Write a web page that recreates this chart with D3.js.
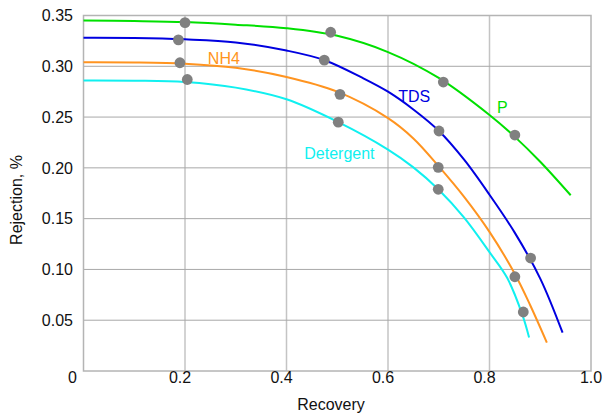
<!DOCTYPE html>
<html>
<head>
<meta charset="utf-8">
<script src="https://cdn.jsdelivr.net/npm/d3@7"></script>
<style>
  body { margin: 0; background: #fff; }
  svg { display: block; font-family: "Liberation Sans", Arial, sans-serif; }
</style>
</head>
<body>
<div id="chart"></div>
<script>
// Data
const xTicks = [0, 0.2, 0.4, 0.6, 0.8, 1.0];
const yTicks = [0.05, 0.10, 0.15, 0.20, 0.25, 0.30, 0.35];

const seriesNames  = ['P', 'TDS', 'NH4', 'Detergent'];
const seriesColors = ['#00e000', '#0000e0', '#ff9420', '#10f0f0'];

// fitted curves
const pCurveX   = [0, 0.1, 0.2, 0.3, 0.4, 0.5, 0.6, 0.7, 0.8, 0.85, 0.9, 0.96];
const pCurveY   = [0.345, 0.3445, 0.3435, 0.341, 0.3375, 0.330, 0.314, 0.2885, 0.252, 0.2305, 0.206, 0.173];
const tdsCurveX = [0, 0.1, 0.2, 0.3, 0.4, 0.475, 0.55, 0.6, 0.65, 0.7, 0.75, 0.8, 0.85, 0.9, 0.944];
const tdsCurveY = [0.328, 0.3278, 0.3265, 0.3235, 0.3155, 0.306, 0.2885, 0.275, 0.2575, 0.2365, 0.208, 0.1735, 0.136, 0.091, 0.0377];
const nh4CurveX = [0, 0.1, 0.2, 0.3, 0.4, 0.5, 0.6, 0.65, 0.7, 0.75, 0.8, 0.85, 0.88, 0.913];
const nh4CurveY = [0.304, 0.3038, 0.3025, 0.2985, 0.2895, 0.275, 0.249, 0.229, 0.2015, 0.1715, 0.137, 0.0955, 0.065, 0.028];
const detCurveX = [0, 0.1, 0.2, 0.3, 0.4, 0.5, 0.6, 0.65, 0.7, 0.75, 0.8, 0.835, 0.865, 0.878];
const detCurveY = [0.286, 0.2858, 0.2845, 0.279, 0.2675, 0.2455, 0.218, 0.2005, 0.1785, 0.151, 0.117, 0.0915, 0.055, 0.033];

// measured points
const pointX = [0.200, 0.187, 0.190, 0.2045, 0.487, 0.4745, 0.5054, 0.502, 0.709, 0.7005, 0.699, 0.699, 0.850, 0.881, 0.850, 0.8666];
const pointY = [0.343, 0.326, 0.3035, 0.287, 0.3335, 0.306, 0.2724, 0.245, 0.2845, 0.2363, 0.2005, 0.1789, 0.2323, 0.1112, 0.0928, 0.0581];

// label positions (data units)
const labelX = [0.815, 0.62, 0.245, 0.435];
const labelY = [0.254, 0.265, 0.302, 0.209];

const curves = [
  [pCurveX, pCurveY],
  [tdsCurveX, tdsCurveY],
  [nh4CurveX, nh4CurveY],
  [detCurveX, detCurveY]
];

// Layout
const width   = 613;
const height  = 416;
const plotL   = 83.5;
const plotR   = 591;
const plotT   = 15.5;
const plotB   = 371;

const svg = d3.select('#chart')
  .append('svg')
    .attr('width', width)
    .attr('height', height);

const x = d3.scaleLinear().domain([0, 1]).range([plotL, plotR]);
const y = d3.scaleLinear().domain([0, 0.35]).range([plotB, plotT]);

// grid
svg.append('g')
  .selectAll('line')
  .data(xTicks.slice(1, -1))
  .join('line')
    .attr('x1', d => x(d)).attr('x2', d => x(d))
    .attr('y1', plotT).attr('y2', plotB)
    .attr('stroke', '#c4c4c4')
    .attr('stroke-width', 1.5);

svg.append('g')
  .selectAll('line')
  .data(yTicks.slice(0, -1))
  .join('line')
    .attr('x1', plotL).attr('x2', plotR)
    .attr('y1', d => y(d)).attr('y2', d => y(d))
    .attr('stroke', '#a8a8a8')
    .attr('stroke-width', 1);

// frame
svg.append('rect')
  .attr('x', plotL).attr('y', plotT)
  .attr('width', plotR - plotL).attr('height', plotB - plotT)
  .attr('fill', 'none')
  .attr('stroke', '#b4b4b4')
  .attr('stroke-width', 1.5);

// tick labels
svg.append('g')
  .selectAll('text')
  .data(yTicks)
  .join('text')
    .attr('x', 73)
    .attr('y', d => y(d))
    .attr('dy', '0.36em')
    .attr('text-anchor', 'end')
    .attr('font-size', 16)
    .attr('fill', '#111')
    .text(d => d.toFixed(2));

svg.append('g')
  .selectAll('text')
  .data(xTicks)
  .join('text')
    .attr('x', d => x(d) + (d === 0 ? -11 : d === 1 ? 0 : -5))
    .attr('y', 383)
    .attr('text-anchor', 'middle')
    .attr('font-size', 16)
    .attr('fill', '#111')
    .text(d => d === 0 ? '0' : d.toFixed(1));

// axis titles
svg.append('text')
  .attr('x', 331)
  .attr('y', 410)
  .attr('text-anchor', 'middle')
  .attr('font-size', 16)
  .attr('fill', '#111')
  .text('Recovery');

svg.append('text')
  .attr('transform', 'translate(22,200) rotate(-90)')
  .attr('text-anchor', 'middle')
  .attr('font-size', 16)
  .attr('fill', '#111')
  .text('Rejection, %');

// curves
const line = d3.line()
  .x(d => x(d[0]))
  .y(d => y(d[1]))
  .curve(d3.curveCatmullRom.alpha(0.5));

curves.forEach(([xs, ys], i) => {
  svg.append('path')
    .datum(xs.map((v, j) => [v, ys[j]]))
    .attr('fill', 'none')
    .attr('stroke', seriesColors[i])
    .attr('stroke-width', 2)
    .attr('d', line);
});

// points
svg.append('g')
  .selectAll('circle')
  .data(pointX.map((v, i) => [v, pointY[i]]))
  .join('circle')
    .attr('cx', d => x(d[0]))
    .attr('cy', d => y(d[1]))
    .attr('r', 5.4)
    .attr('fill', '#808080');

// series labels
svg.append('g')
  .selectAll('text')
  .data(seriesNames)
  .join('text')
    .attr('x', (d, i) => x(labelX[i]))
    .attr('y', (d, i) => y(labelY[i]))
    .attr('font-size', 16)
    .attr('fill', (d, i) => seriesColors[i])
    .text(d => d);
</script>
</body>
</html>
